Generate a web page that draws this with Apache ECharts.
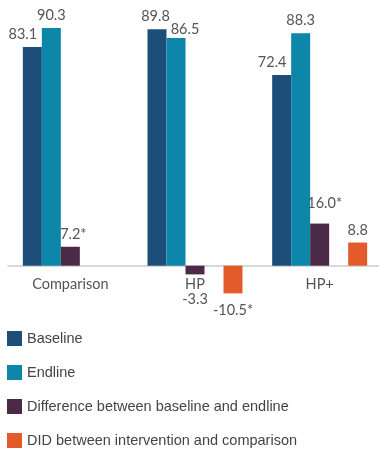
<!DOCTYPE html>
<html>
<head>
<meta charset="utf-8">
<script src="https://cdn.jsdelivr.net/npm/echarts@6/dist/echarts.min.js"></script>
<style>
  html, body { margin: 0; padding: 0; background: #ffffff; }
  #chart { width: 379px; height: 452px; }
</style>
</head>
<body>
<div id="chart"></div>
<script>
// Groups and measured percentages
const categories = ['Comparison', 'HP', 'HP+'];
const baseline = [83.1, 89.8, 72.4];
const endline = [90.3, 86.5, 88.3];
const difference = [7.2, -3.3, 16.0];
const did = [null, -10.5, 8.8];
// Statistically significant values carry an asterisk
const diffStar = [true, false, true];
const didStar = [false, true, false];

const seriesNames = [
  'Baseline',
  'Endline',
  'Difference between baseline and endline',
  'DID between intervention and comparison'
];
const colors = ['#1c4e79', '#0c87aa', '#4a2a47', '#e35a2b'];

// Label nudges so neighbouring value labels don't collide: [dx, dy, distance]
const labelNudge = {
  baseline: [[-9.5, 0, 5], [-1.5, 0, 5], [-9.5, 0, 5]],
  endline: [[0, 0, 5], [9, 4, 5], [0, 0, 5]],
  difference: [[3, 0, 5], [0, 0, 17], [5, -8, 5]],
  did: [[0, 0, 5], [0, 0, 9], [0, 0, 5]]
};

const labelFont = 'Lato, "Open Sans", sans-serif';
const baseLabel = {
  show: true,
  fontFamily: labelFont,
  fontSize: 14.5,
  color: '#555555'
};

function fmt(v, star) {
  return v.toFixed(1) + (star ? '*' : '');
}

function items(values, stars, nudge) {
  return values.map((v, i) => {
    if (v === null) return '-';
    const neg = v < 0;
    const n = nudge[i];
    return {
      value: v,
      label: Object.assign({}, baseLabel, {
        position: neg ? 'bottom' : 'top',
        distance: n[2],
        offset: [n[0], n[1]],
        formatter: fmt(v, stars ? stars[i] : false)
      })
    };
  });
}

const chart = echarts.init(document.getElementById('chart'), null, { renderer: 'canvas' });

// negative bars hang below the grid's bottom edge, which is the zero line
const barCommon = { type: 'bar', barWidth: 19, barGap: '0%', clip: false };

chart.setOption({
  animation: false,
  backgroundColor: '#ffffff',
  grid: {
    left: 8,
    top: 2.4,
    width: 374,
    height: 263.3,
    containLabel: false,
    outerBoundsMode: 'none'
  },
  xAxis: {
    type: 'category',
    data: categories,
    axisLine: { show: true, lineStyle: { color: '#cccccc', width: 1.5 } },
    axisTick: { show: false },
    axisLabel: {
      fontFamily: labelFont,
      fontSize: 14.5,
      color: '#555555',
      margin: 11
    },
    z: 1
  },
  yAxis: {
    type: 'value',
    min: 0,
    max: 100,
    show: false,
    splitLine: { show: false }
  },
  legend: {
    orient: 'vertical',
    left: 7,
    top: 331,
    padding: 0,
    itemWidth: 15,
    itemHeight: 15,
    itemGap: 19,
    icon: 'rect',
    data: seriesNames,
    textStyle: {
      fontFamily: '"Liberation Sans", Arial, sans-serif',
      fontSize: 14.5,
      color: '#444444'
    }
  },
  series: [
    Object.assign({}, barCommon, {
      name: seriesNames[0],
      itemStyle: { color: colors[0] },
      data: items(baseline, null, labelNudge.baseline)
    }),
    Object.assign({}, barCommon, {
      name: seriesNames[1],
      itemStyle: { color: colors[1] },
      data: items(endline, null, labelNudge.endline)
    }),
    Object.assign({}, barCommon, {
      name: seriesNames[2],
      itemStyle: { color: colors[2] },
      data: items(difference, diffStar, labelNudge.difference)
    }),
    // empty slot that separates the DID bar from the rest of the group
    Object.assign({}, barCommon, {
      name: 'spacer',
      data: ['-', '-', '-']
    }),
    Object.assign({}, barCommon, {
      name: seriesNames[3],
      itemStyle: { color: colors[3] },
      data: items(did, didStar, labelNudge.did)
    })
  ]
});
</script>
</body>
</html>
